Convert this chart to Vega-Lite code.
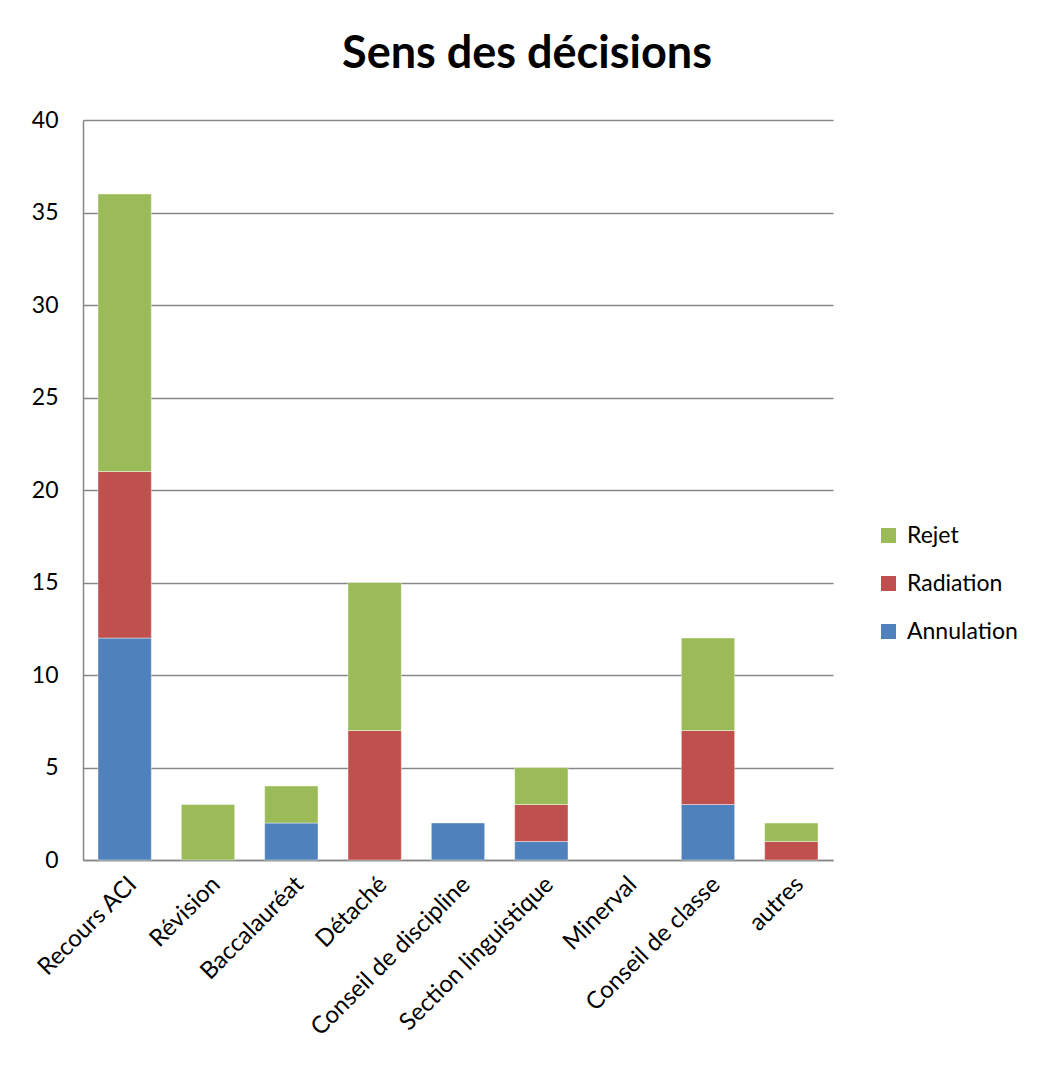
{
  "$schema": "https://vega.github.io/schema/vega-lite/v6.json",
  "width": 750,
  "height": 740,
  "autosize": {"type": "none"},
  "padding": {"left": 83, "top": 120, "right": 204, "bottom": 212},
  "background": "white",
  "title": {
    "text": "Sens des décisions",
    "font": "Lato",
    "fontSize": 45,
    "fontWeight": "bold",
    "color": "#000000",
    "anchor": "middle",
    "dx": 69,
    "offset": 32
  },
  "data": {
    "values": [
      {"categorie": "Recours ACI", "serie": "Annulation", "valeur": 12},
      {"categorie": "Recours ACI", "serie": "Radiation", "valeur": 9},
      {"categorie": "Recours ACI", "serie": "Rejet", "valeur": 15},
      {"categorie": "Révision", "serie": "Rejet", "valeur": 3},
      {"categorie": "Baccalauréat", "serie": "Annulation", "valeur": 2},
      {"categorie": "Baccalauréat", "serie": "Rejet", "valeur": 2},
      {"categorie": "Détaché", "serie": "Radiation", "valeur": 7},
      {"categorie": "Détaché", "serie": "Rejet", "valeur": 8},
      {"categorie": "Conseil de discipline", "serie": "Annulation", "valeur": 2},
      {"categorie": "Section linguistique", "serie": "Annulation", "valeur": 1},
      {"categorie": "Section linguistique", "serie": "Radiation", "valeur": 2},
      {"categorie": "Section linguistique", "serie": "Rejet", "valeur": 2},
      {"categorie": "Conseil de classe", "serie": "Annulation", "valeur": 3},
      {"categorie": "Conseil de classe", "serie": "Radiation", "valeur": 4},
      {"categorie": "Conseil de classe", "serie": "Rejet", "valeur": 5},
      {"categorie": "autres", "serie": "Radiation", "valeur": 1},
      {"categorie": "autres", "serie": "Rejet", "valeur": 1}
    ]
  },
  "mark": {"type": "bar", "stroke": "#ffffff", "strokeWidth": 0.6, "strokeOpacity": 0.7},
  "encoding": {
    "x": {
      "field": "categorie",
      "type": "nominal",
      "title": null,
      "scale": {
        "domain": ["Recours ACI", "Révision", "Baccalauréat", "Détaché", "Conseil de discipline", "Section linguistique", "Minerval", "Conseil de classe", "autres"],
        "paddingInner": 0.36,
        "paddingOuter": 0.18
      },
      "axis": {
        "labelAngle": -45,
        "labelFont": "Lato",
        "labelFontSize": 24,
        "labelLimit": 400,
        "labelColor": "#000000",
        "labelPadding": 12,
        "ticks": false,
        "domainColor": "#868686",
        "domainWidth": 1.5,
        "grid": false
      }
    },
    "y": {
      "field": "valeur",
      "type": "quantitative",
      "stack": "zero",
      "title": null,
      "scale": {"domain": [0, 40], "nice": false},
      "axis": {
        "values": [0, 5, 10, 15, 20, 25, 30, 35, 40],
        "labelFont": "Lato",
        "labelFontSize": 23,
        "labelColor": "#000000",
        "labelPadding": 25,
        "ticks": false,
        "domainColor": "#868686",
        "domainWidth": 1.5,
        "grid": true,
        "gridColor": "#868686",
        "gridWidth": 1.5
      }
    },
    "color": {
      "field": "serie",
      "type": "nominal",
      "sort": "descending",
      "scale": {
        "domain": ["Rejet", "Radiation", "Annulation"],
        "range": ["#9BBB59", "#C0504D", "#4F81BD"]
      },
      "legend": {
        "title": null,
        "orient": "none",
        "legendX": 794,
        "legendY": 404,
        "padding": 0,
        "symbolType": "square",
        "symbolSize": 225,
        "symbolStrokeWidth": 0,
        "labelFont": "Lato",
        "labelFontSize": 23,
        "labelColor": "#000000",
        "labelOffset": 7,
        "rowPadding": 24
      }
    },
    "order": {"field": "serie", "sort": "ascending"}
  },
  "config": {
    "view": {"stroke": null}
  }
}
